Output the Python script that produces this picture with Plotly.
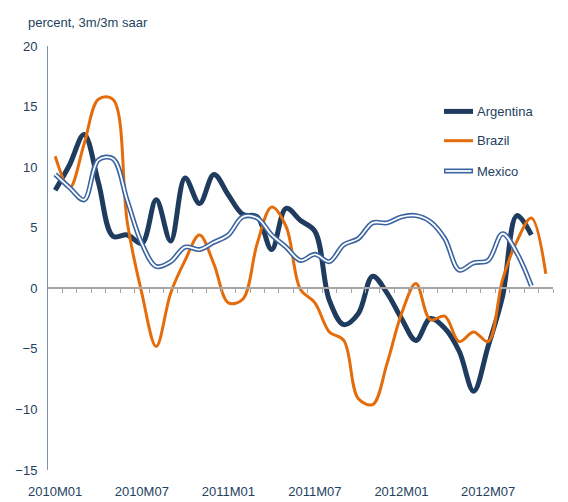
import plotly.graph_objects as go

months = ["2010M01", "2010M02", "2010M03", "2010M04", "2010M05", "2010M06",
          "2010M07", "2010M08", "2010M09", "2010M10", "2010M11", "2010M12",
          "2011M01", "2011M02", "2011M03", "2011M04", "2011M05", "2011M06",
          "2011M07", "2011M08", "2011M09", "2011M10", "2011M11", "2011M12",
          "2012M01", "2012M02", "2012M03", "2012M04", "2012M05", "2012M06",
          "2012M07", "2012M08", "2012M09", "2012M10", "2012M11"]

argentina = [8.1, 10.2, 12.7, 8.7, 4.3, 4.4, 3.7, 7.3, 3.9, 9.1, 7.0, 9.4,
             7.7, 6.1, 5.9, 3.2, 6.6, 5.6, 4.7, -1.0, -3.0, -2.1, 1.0, -0.4,
             -2.5, -4.3, -2.5, -3.3, -5.2, -8.5, -4.8, -0.7, 6.0, 4.4]

brazil = [10.9, 8.3, 11.9, 15.6, 15.6, 5.4, -0.4, -4.8, -0.4, 2.3, 4.4, 2.0,
          -1.2, -0.9, 3.7, 6.7, 5.1, -0.1, -1.2, -3.6, -4.3, -9.1, -9.6, -6.2,
          -2.1, 0.4, -2.6, -2.3, -4.4, -3.6, -4.4, 0.7, 3.9, 5.8, 1.2]

mexico = [9.4, 8.3, 7.3, 10.6, 10.7, 7.2, 3.7, 1.8, 2.2, 3.4, 3.2, 3.8,
          4.4, 5.9, 5.8, 4.4, 3.4, 2.3, 2.8, 2.2, 3.6, 4.1, 5.4, 5.4,
          5.9, 6.0, 5.5, 4.1, 1.5, 2.1, 2.3, 4.5, 2.9, 0.2]

label_months = ["2010M01", "2010M07", "2011M01", "2011M07", "2012M01", "2012M07"]
y_ticks = [-15, -10, -5, 0, 5, 10, 15, 20]

C_ARG = "#1F3B5E"
C_BRA = "#E46C0A"
C_MEX = "#3A64A0"
C_TXT = "#243F60"
FONT = "Arial, Liberation Sans, sans-serif"

idx = {m: i for i, m in enumerate(months)}
xs = list(range(len(months)))

fig = go.Figure()
fig.add_trace(go.Scatter(x=xs[:len(argentina)], y=argentina, mode="lines",
                         line=dict(color=C_ARG, width=5, shape="spline", smoothing=1),
                         name="Argentina", showlegend=False, hoverinfo="skip"))
fig.add_trace(go.Scatter(x=xs[:len(brazil)], y=brazil, mode="lines",
                         line=dict(color=C_BRA, width=3, shape="spline", smoothing=1),
                         name="Brazil", showlegend=False, hoverinfo="skip"))
fig.add_trace(go.Scatter(x=xs[:len(mexico)], y=mexico, mode="lines",
                         line=dict(color=C_MEX, width=5, shape="spline", smoothing=1),
                         name="Mexico", showlegend=False, hoverinfo="skip"))
fig.add_trace(go.Scatter(x=xs[:len(mexico)], y=mexico, mode="lines",
                         line=dict(color="white", width=1.8, shape="spline", smoothing=1),
                         showlegend=False, hoverinfo="skip"))
# helper trace so the zero-line axis is drawn
fig.add_trace(go.Scatter(x=[0], y=[0], xaxis="x2", mode="none",
                         showlegend=False, hoverinfo="skip"))

# the page body adds an 8px offset, so the figure is 8px smaller and margins shifted
xr = [-0.5, len(months) - 0.5]
fig.update_layout(
    width=560, height=494,
    margin=dict(l=40, r=15, t=38, b=32, autoexpand=False),
    showlegend=False,
    paper_bgcolor="white", plot_bgcolor="white",
    font=dict(family=FONT, size=13, color=C_TXT),
    xaxis=dict(range=xr, tickvals=[idx[m] for m in label_months], ticktext=label_months,
               showgrid=False, zeroline=False, showline=False, ticks="", automargin=False,
               tickfont=dict(size=13, color=C_TXT), ticklabelstandoff=12),
    xaxis2=dict(range=xr, overlaying="x", anchor="free", position=15 / 35,
                tickvals=[i + 0.5 for i in xs], showticklabels=False, automargin=False,
                showgrid=False, zeroline=False, showline=True,
                linecolor="#A6A6A6", linewidth=1.5,
                ticks="outside", ticklen=4, tickcolor="#A6A6A6", tickwidth=1),
    yaxis=dict(range=[-15, 20], tickvals=y_ticks, showgrid=False, zeroline=False,
               showline=True, linecolor="#8093AE", linewidth=1, ticks="", automargin=False,
               tickfont=dict(size=13, color=C_TXT), ticklabelstandoff=7),
)

# manual legend (page pixel coordinates converted to plot-area fractions)
plot_l, plot_w, plot_b, plot_h = 48, 505, 470, 424
def px(x):
    return (x - plot_l) / plot_w
def py(y):
    return (plot_b - y) / plot_h

legend_items = [("Argentina", 111.4), ("Brazil", 140.7), ("Mexico", 171)]
for name, yy in legend_items:
    if name == "Argentina":
        fig.add_shape(type="line", xref="paper", yref="paper", x0=px(444), x1=px(473),
                      y0=py(yy), y1=py(yy), line=dict(color=C_ARG, width=5))
    elif name == "Brazil":
        fig.add_shape(type="line", xref="paper", yref="paper", x0=px(444), x1=px(473),
                      y0=py(yy), y1=py(yy), line=dict(color=C_BRA, width=3))
    else:
        fig.add_shape(type="line", xref="paper", yref="paper", x0=px(444), x1=px(473),
                      y0=py(yy), y1=py(yy), line=dict(color=C_MEX, width=5))
        fig.add_shape(type="line", xref="paper", yref="paper", x0=px(445.5), x1=px(471.5),
                      y0=py(yy), y1=py(yy), line=dict(color="white", width=1.8))
    fig.add_annotation(text=name, xref="paper", yref="paper", x=px(475), y=py(yy),
                       xanchor="left", yanchor="middle", showarrow=False,
                       font=dict(size=13, color=C_TXT, family=FONT))

fig.add_annotation(text="percent, 3m/3m saar", xref="paper", yref="paper",
                   x=px(26), y=py(22), xanchor="left", yanchor="middle",
                   showarrow=False, font=dict(size=13, color=C_TXT, family=FONT))

fig.write_html("out.html")
